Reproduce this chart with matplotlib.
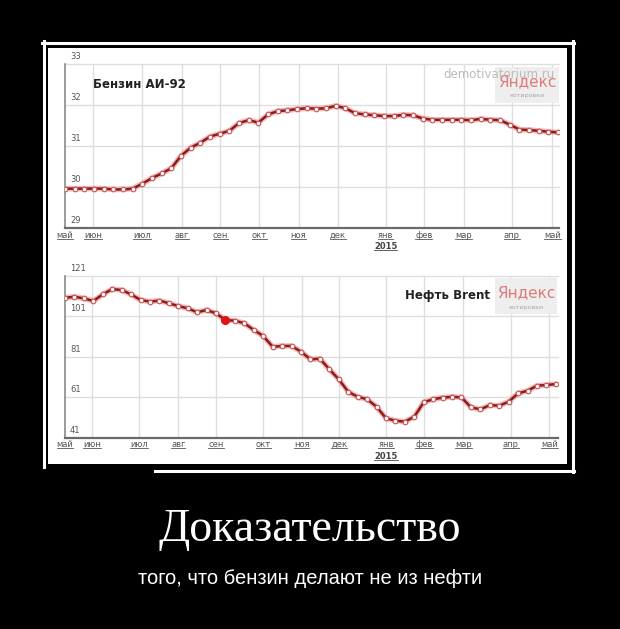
import matplotlib
matplotlib.use("Agg")
import matplotlib.pyplot as plt
from matplotlib.lines import Line2D
from matplotlib.patches import Rectangle
import matplotlib.transforms as mtransforms

W, H = 620, 629

# --- data (weekly points, May 2014 - May 2015) ---
petrol = [29.96, 29.96, 29.96, 29.96, 29.96, 29.94, 29.94, 29.96,
          30.08, 30.22, 30.33, 30.46, 30.76, 30.96, 31.08, 31.23, 31.30, 31.37,
          31.56, 31.63, 31.57, 31.77, 31.85, 31.87, 31.90, 31.92, 31.91, 31.92,
          31.98, 31.92, 31.80, 31.77, 31.75, 31.73, 31.73,
          31.76, 31.75, 31.67, 31.64, 31.64, 31.64, 31.64, 31.63, 31.66, 31.64,
          31.63, 31.52, 31.40, 31.39, 31.37, 31.35, 31.33]
brent = [110.0, 110.5, 109.7, 108.4, 111.7, 114.3, 113.8, 111.7, 108.9,
         108.1, 108.6, 107.3, 105.9, 104.8, 102.8, 104.0, 102.3, 99.0,
         98.7, 97.4, 94.1, 91.1, 85.8, 86.2, 86.2, 83.4, 79.6, 79.9, 74.7,
         69.7, 63.6, 61.1, 59.9, 56.2, 50.5,
         49.3, 48.8, 51.3, 58.4, 59.9, 60.7, 61.1, 60.8, 55.9, 54.9, 57.0,
         56.7, 58.7, 62.8, 64.1, 66.6, 66.9, 67.4]
brent_marked = 17

months = ["май", "июн", "июл", "авг", "сен", "окт", "ноя", "дек",
          "янв", "фев", "мар", "апр", "май"]
petrol_month_pos = [0, 2.9, 7.98, 12.1, 16.06, 20.1, 24.15, 28.19,
                    33.16, 37.1, 41.24, 46.2, 50.4]
brent_month_pos = [0, 2.83, 7.87, 12.0, 16.0, 21.0, 25.07, 29.06,
                   34.0, 38.03, 42.19, 47.2, 51.3]
petrol_ticks = [29, 30, 31, 32, 33]
brent_ticks = [41, 61, 81, 101, 121]


def fx(x):
    return x / W


def fy(y):
    return 1 - y / H


fig = plt.figure(figsize=(6.2, 6.29), dpi=100, facecolor="black")

# white picture and the thin white frame around it
fig.add_artist(Rectangle((fx(48), fy(464)), fx(567) - fx(48), fy(48) - fy(464),
                         transform=fig.transFigure, facecolor="white",
                         edgecolor="none", zorder=0))
frame = [((43.5, 43.5), (41, 467)), ((42, 574), (42.5, 42.5)),
         ((573, 573), (41, 472)), ((155, 574), (471, 471))]
for xs, ys in frame:
    fig.add_artist(Line2D([fx(v) for v in xs], [fy(v) for v in ys],
                          transform=fig.transFigure, color="white", lw=2.2))

underlined = []


def draw_panel(ax, values, month_pos, yticks, right_idx):
    x = list(range(len(values)))
    ax.set_xlim(0, right_idx)
    ax.set_ylim(yticks[0], yticks[-1])
    ax.set_facecolor("white")
    for s in ["top", "right"]:
        ax.spines[s].set_visible(False)
    ax.spines["left"].set_color("#8a8a8a")
    ax.spines["bottom"].set_color("#6a6a6a")
    ax.spines["left"].set_linewidth(1.2)
    ax.spines["bottom"].set_linewidth(1.6)
    for v in yticks[1:]:
        ax.axhline(v, color="#dedede", lw=1, zorder=1, clip_on=False)
    for p in month_pos[1:]:
        ax.axvline(p, color="#dedede", lw=1, zorder=1)
    ax.set_yticks([])
    ax.set_xticks(month_pos)
    ax.set_xticklabels(months, fontsize=6, color="#555555")
    ax.tick_params(axis="x", length=0, pad=2)
    underlined.extend(ax.get_xticklabels())
    trans = mtransforms.offset_copy(ax.get_yaxis_transform(), fig=fig,
                                    x=0, y=2, units="points")
    for v in yticks:
        ax.text(0.01, v, str(v), transform=trans, fontsize=6,
                color="#555555", ha="left", va="bottom")
    t = ax.text(month_pos[8], -0.115, "2015", fontweight="bold",
                transform=ax.get_xaxis_transform(), fontsize=6,
                color="#444444", ha="center", va="center")
    underlined.append(t)
    ax.plot(x, values, color="#f08a8a", lw=4, alpha=0.6, zorder=3,
            solid_capstyle="round")
    ax.plot(x, values, color="#861c1c", lw=1.8, zorder=4)
    ax.plot(x, values, "o", ms=3.3, mfc="white", mec="#c85050", mew=0.8,
            zorder=5)


def yandex_box(x0, y0, x1, y1):
    fig.add_artist(Rectangle((fx(x0), fy(y1)), fx(x1) - fx(x0), fy(y0) - fy(y1),
                             transform=fig.transFigure, facecolor="#eeeeee",
                             edgecolor="none", zorder=1))
    fig.text(fx((x0 + x1) / 2), fy(y0 + 15), "Яндекс", fontsize=11,
             family="DejaVu Sans",
             color="#e07a7a", ha="center", va="center", zorder=2)
    fig.text(fx((x0 + x1) / 2), fy(y1 - 7), "котировки", fontsize=4.5,
             color="#a8a8a8", ha="center", va="center", zorder=2)


# top: petrol
ax1 = fig.add_axes([fx(65), fy(228), fx(559) - fx(65), fy(64) - fy(228)])
draw_panel(ax1, petrol, petrol_month_pos, petrol_ticks, 51.09)
fig.text(fx(93), fy(85), "Бензин АИ-92", fontsize=8.5, fontweight="bold",
         color="#222222", ha="left", va="center")
yandex_box(495, 67, 559, 103)
fig.text(fx(555), fy(74), "demotivatorium.ru", fontsize=8.5,
         color="#bbbbbb", ha="right", va="center", zorder=3)

# bottom: brent
ax2 = fig.add_axes([fx(65), fy(437.5), fx(557.5) - fx(65), fy(275.5) - fy(437.5)])
draw_panel(ax2, brent, brent_month_pos, brent_ticks, 52.17)
ax2.plot(brent_marked, brent[brent_marked], "o", color="#dd1515", ms=5.5,
         zorder=6)
fig.text(fx(490), fy(296), "Нефть Brent", fontsize=8.5, fontweight="bold",
         color="#222222", ha="right", va="center")
yandex_box(495, 278, 557, 314)

# caption
fig.text(0.5, fy(530), "Доказательство", fontsize=33, color="white",
         family="Liberation Serif", ha="center", va="center")
fig.text(0.5, fy(578), "того, что бензин делают не из нефти", fontsize=14.5,
         color="white", family="Liberation Sans", ha="center", va="center")

# underline the month links like on the web page
fig.canvas.draw()
renderer = fig.canvas.get_renderer()
for t in underlined:
    bb = t.get_window_extent(renderer)
    yl = (bb.y0 + 1) / fig.bbox.height
    fig.add_artist(Line2D([bb.x0 / fig.bbox.width, bb.x1 / fig.bbox.width],
                          [yl, yl], transform=fig.transFigure,
                          color=t.get_color(), lw=0.6))

fig.savefig("out.png", dpi=100, facecolor="black")
